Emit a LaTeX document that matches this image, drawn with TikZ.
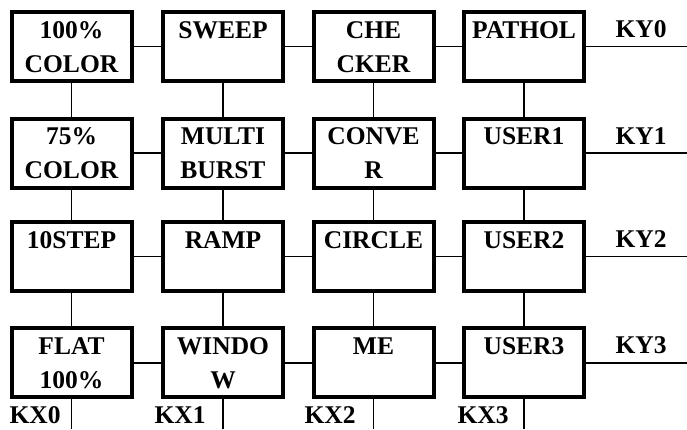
\documentclass[tikz,border=0pt]{standalone}
\usepackage{fontspec}
\setmainfont{Liberation Serif}
\usepackage{tikz}

\tikzset{
  keybox/.style={draw, line width=4pt, minimum width=120pt, minimum height=69pt, inner sep=0pt},
  wire/.style={line width=1.4pt},
  pinlab/.style={inner sep=0pt, font=\bfseries\fontsize{25.5}{34}\selectfont}
}
\newcommand{\keytext}[1]{\parbox[c][64pt][t]{118pt}{\centering\bfseries\fontsize{25.5}{34}\selectfont\strut #1}}

\begin{document}
\begin{tikzpicture}[x=1pt, y=-1pt]
        \useasboundingbox (0,0) rectangle (687,429);
        % row 0
        \node[keybox] (b00) at (71.5,46.5)  {\keytext{100\%\\COLOR}};
        \node[keybox] (b01) at (223,46.5)   {\keytext{SWEEP}};
        \node[keybox] (b02) at (373.5,46.5) {\keytext{CHE\\CKER}};
        \node[keybox] (b03) at (524,46.5)   {\keytext{PATHOL}};
        % row 1
        \node[keybox] (b10) at (71.5,153)  {\keytext{75\%\\COLOR}};
        \node[keybox] (b11) at (223,153)   {\keytext{MULTI\\BURST}};
        \node[keybox] (b12) at (373.5,153) {\keytext{CONVE\\R}};
        \node[keybox] (b13) at (524,153)   {\keytext{USER1}};
        % row 2
        \node[keybox] (b20) at (71.5,256.7)  {\keytext{10STEP}};
        \node[keybox] (b21) at (223,256.7)   {\keytext{RAMP}};
        \node[keybox] (b22) at (373.5,256.7) {\keytext{CIRCLE}};
        \node[keybox] (b23) at (524,256.7)   {\keytext{USER2}};
        % row 3
        \node[keybox] (b30) at (71.5,362.8)  {\keytext{FLAT\\100\%}};
        \node[keybox] (b31) at (223,362.8)   {\keytext{WINDO\\W}};
        \node[keybox] (b32) at (373.5,362.8) {\keytext{ME}};
        \node[keybox] (b33) at (524,362.8)   {\keytext{USER3}};
        % horizontal wires
        \foreach \r in {0,1,2,3}{
          \draw[wire] (b\r0.east) -- (b\r1.west);
          \draw[wire] (b\r1.east) -- (b\r2.west);
          \draw[wire] (b\r2.east) -- (b\r3.west);
        }
        % vertical wires
        \foreach \c in {0,1,2,3}{
          \draw[wire] (b0\c.south) -- (b1\c.north);
          \draw[wire] (b1\c.south) -- (b2\c.north);
          \draw[wire] (b2\c.south) -- (b3\c.north);
        }
        % row lines KY
        \coordinate (ky0end) at (687,46.5);
        \coordinate (ky1end) at (687,153);
        \coordinate (ky2end) at (687,256.7);
        \coordinate (ky3end) at (687,362.8);
        \draw[wire] (b03.east) -- (ky0end);
        \draw[wire] (b13.east) -- (ky1end);
        \draw[wire] (b23.east) -- (ky2end);
        \draw[wire] (b33.east) -- (ky3end);
        \node[pinlab, anchor=base] (ky0) at (641,37.5)  {KY0};
        \node[pinlab, anchor=base] (ky1) at (641,144)   {KY1};
        \node[pinlab, anchor=base] (ky2) at (641,247.7) {KY2};
        \node[pinlab, anchor=base] (ky3) at (641,353.8) {KY3};
        % column lines KX
        \coordinate (kx0end) at (71.5,429);
        \coordinate (kx1end) at (223,429);
        \coordinate (kx2end) at (373.5,429);
        \coordinate (kx3end) at (524,429);
        \draw[wire] (b30.south) -- (kx0end);
        \draw[wire] (b31.south) -- (kx1end);
        \draw[wire] (b32.south) -- (kx2end);
        \draw[wire] (b33.south) -- (kx3end);
        \node[pinlab, anchor=base] (kx0) at (35,423)  {KX0};
        \node[pinlab, anchor=base] (kx1) at (180,423) {KX1};
        \node[pinlab, anchor=base] (kx2) at (330,423) {KX2};
        \node[pinlab, anchor=base] (kx3) at (483,423) {KX3};
    \end{tikzpicture}
\end{document}
